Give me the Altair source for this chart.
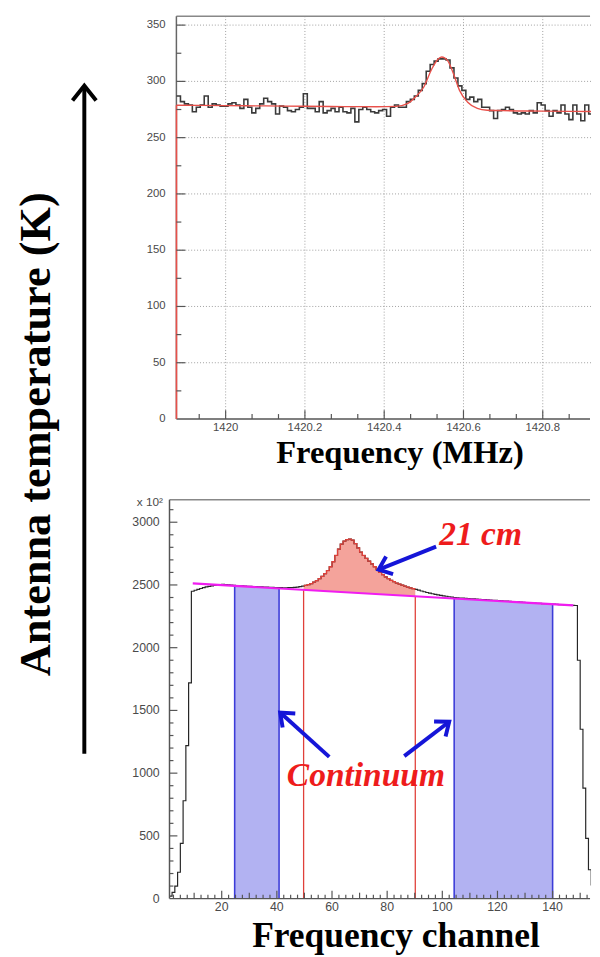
import altair as alt
import numpy as np
import pandas as pd

# ---------------- top panel: HI spectrum in frequency ----------------
top_bin_start = 1419.876          # MHz, left edge of first histogram bin
top_bin_width = 0.01              # MHz
top_counts = [287, 282, 280, 279, 273, 277, 279, 287, 277, 280,
              279, 278, 278, 280, 281, 279, 276, 284, 277, 272,
              276, 280, 285, 282, 280, 271, 278, 277, 274, 273,
              275, 277, 289, 276, 276, 273, 282, 272, 274, 276,
              273, 277, 273, 272, 276,
              264, 275, 277, 275, 273, 272, 274, 275, 269, 277,
              279, 277, 277, 282, 284, 287, 292, 298, 309, 315,
              318, 320, 320, 319, 312, 303, 296, 292, 284, 286,
              282, 284, 277, 277, 274, 267, 274, 275, 277, 275,
              272, 271, 272, 271, 274, 272, 281, 279, 274, 269,
              274, 272, 279, 271, 266, 279, 271, 265, 279, 271]
fit_freq = [1419.876, 1420.0, 1420.1, 1420.2, 1420.3, 1420.38, 1420.43, 1420.46,
            1420.48, 1420.50, 1420.52, 1420.535, 1420.545, 1420.56, 1420.575,
            1420.59, 1420.61, 1420.635, 1420.66, 1420.7, 1420.8, 1420.924]
fit_temp = [278.8, 278.5, 278.2, 277.9, 277.6, 277.5, 277.8, 280.5,
            286.5, 295, 311, 319.5, 321.7, 318.4, 306.5,
            292, 281.7, 276, 274.4, 274, 273.6, 273.2]
top_x_labels = [1420.0, 1420.2, 1420.4, 1420.6, 1420.8]
top_x_text = ["1420", "1420.2", "1420.4", "1420.6", "1420.8"]
top_y_labels = [0, 50, 100, 150, 200, 250, 300, 350]

# ---------------- bottom panel: spectrum in channels (x 10^2) ----------------
chan_first = 1
chan_counts = [20, 50, 100, 210, 440, 780, 1220, 1720, 2450, 2458,
               2465, 2472, 2478, 2484, 2488, 2492, 2496, 2500, 2503, 2504,
               2503, 2501, 2499, 2497, 2495, 2493, 2492, 2490, 2489, 2488,
               2487, 2486, 2485, 2484, 2483, 2482, 2481, 2480, 2479, 2478,
               2478, 2477, 2477, 2478, 2479, 2481, 2483, 2486, 2490, 2496,
               2503, 2511, 2522, 2535, 2550, 2568, 2590, 2615, 2645, 2685,
               2735, 2785, 2825, 2850, 2862, 2865, 2858, 2830, 2795, 2762,
               2735, 2712, 2690, 2668, 2645, 2622, 2600, 2582, 2565, 2550,
               2537, 2526, 2515, 2506, 2498, 2490, 2483, 2477, 2471, 2465,
               2459, 2452, 2446, 2440, 2435, 2430, 2425, 2421, 2417, 2413,
               2410, 2406, 2403, 2400, 2398, 2396, 2395, 2393, 2392, 2390,
               2389, 2387, 2386, 2384, 2383, 2381, 2380, 2378, 2377, 2375,
               2374, 2372, 2371, 2369, 2368, 2366, 2365, 2363, 2362, 2360,
               2359, 2357, 2356, 2354, 2353, 2351, 2350, 2349, 2348, 2347,
               2345, 2343, 2342, 2340, 2339, 2338, 2337, 2336, 1900, 1350,
               880, 480, 230, 110]
baseline_ch = [9.5, 147.5]
baseline_val = [2512, 2337]
continuum_regions = [(24.7, 40.8), (104.3, 140.0)]
line_region = (49.7, 90.2)
bot_x_labels = [20, 40, 60, 80, 100, 120, 140]
bot_y_labels = [0, 500, 1000, 1500, 2000, 2500, 3000]

# annotation arrows (tail -> tip, in channel / value units)
arrow_tail_x = [97.75, 59.0, 86.2]
arrow_tail_y = [2805, 1130, 1136]
arrow_tip_x = [76.9, 41.2, 102.5]
arrow_tip_y = [2622, 1483, 1410]
arrow_angle = [158.3, 222.0, 322.5]
note_text = ["21 cm", "Continuum"]
note_x = [113.9, 72.3]
note_y = [2818, 895]

# ---------------- layout constants ----------------
W = 428
H1 = 409
H2 = 405
SPACING = 82
LX = 7  # top panel frame starts 7px right of the shared left edge

TXS = alt.Scale(domain=[1419.8584, 1419.8584 + W / 402.5], nice=False, zero=False)
TYS = alt.Scale(domain=[0, 357.9], nice=False, zero=False)
BXS = alt.Scale(domain=[1.07, 1.07 + W / 2.8], nice=False, zero=False)
BYS = alt.Scale(domain=[0, 3179], nice=False, zero=False)

one = pd.DataFrame({"a": [0]})
CHEVRON = "M -1 -0.8 L 0 0 L -1 0.8"
LABEL_FONT = "Liberation Sans"
SERIF = "Liberation Serif"
LABEL_COLOR = "#4a4a4a"


def prule(x, x2, y, y2, color, width):
    return alt.Chart(one).mark_rule(color=color, strokeWidth=width).encode(
        x=alt.value(x), x2=alt.value(x2), y=alt.value(y), y2=alt.value(y2))


def yticks(values, scale, x0, length, color="#555"):
    return alt.Chart(pd.DataFrame({"v": values})).mark_rule(color=color, strokeWidth=1.2).encode(
        y=alt.Y("v:Q", scale=scale, axis=None), x=alt.value(x0), x2=alt.value(x0 + length))


def xticks(values, scale, ybot, length, color="#555"):
    return alt.Chart(pd.DataFrame({"v": values})).mark_rule(color=color, strokeWidth=1.2).encode(
        x=alt.X("v:Q", scale=scale, axis=None), y=alt.value(ybot), y2=alt.value(ybot - length))


def xlabels(values, texts, scale, y, size):
    df = pd.DataFrame({"v": values, "t": texts})
    return alt.Chart(df).mark_text(font=LABEL_FONT, fontSize=size, color=LABEL_COLOR,
                                   align="center", baseline="top").encode(
        x=alt.X("v:Q", scale=scale, axis=None), y=alt.value(y), text="t:N")


def ylabels(values, scale, x, size):
    df = pd.DataFrame({"v": values, "t": [str(v) for v in values]})
    return alt.Chart(df).mark_text(font=LABEL_FONT, fontSize=size, color=LABEL_COLOR,
                                   align="right", baseline="middle").encode(
        y=alt.Y("v:Q", scale=scale, axis=None), x=alt.value(x), text="t:N")


def ptext(txt, x, y, size, **kw):
    return alt.Chart(one).mark_text(text=txt, fontSize=size, **kw).encode(
        x=alt.value(x), y=alt.value(y))


# ================= TOP PANEL =================
n_top = len(top_counts)
top_df = pd.DataFrame({
    "f": [top_bin_start + i * top_bin_width for i in range(n_top + 1)],
    "T": top_counts + [top_counts[-1]],
})

grid_v = alt.Chart(pd.DataFrame({"v": top_x_labels})).mark_rule(
    color="#a0a0a0", strokeDash=[1, 2], strokeWidth=1).encode(
    x=alt.X("v:Q", scale=TXS, axis=None), y=alt.value(0), y2=alt.value(H1))
grid_h = alt.Chart(pd.DataFrame({"v": top_y_labels[1:]})).mark_rule(
    color="#a0a0a0", strokeDash=[1, 2], strokeWidth=1).encode(
    y=alt.Y("v:Q", scale=TYS, axis=None), x=alt.value(LX), x2=alt.value(W))

top_minor_x = [1420 + k * 0.2 / 3 for k in range(-1, 14) if k % 3 != 0]
top_minor_y = [25 + 50 * k for k in range(7)]

hist_top = alt.Chart(top_df).mark_line(
    interpolate="step-after", color="#3a3a3a", strokeWidth=1.6, clip=True).encode(
    x=alt.X("f:Q", scale=TXS, axis=None),
    y=alt.Y("T:Q", scale=TYS, axis=None))

fit_df = pd.DataFrame({"f": fit_freq, "T": fit_temp})
fit_line = alt.Chart(fit_df).mark_line(
    color="#e8504a", strokeWidth=1.4, interpolate="monotone", clip=True).encode(
    x=alt.X("f:Q", scale=TXS, axis=None), y=alt.Y("T:Q", scale=TYS, axis=None))
fit_left = alt.Chart(pd.DataFrame({"f": [fit_freq[0]], "t0": [0], "t1": [fit_temp[0]]})).mark_rule(
    color="#e8504a", strokeWidth=1.6).encode(
    x=alt.X("f:Q", scale=TXS, axis=None), y=alt.Y("t0:Q", scale=TYS, axis=None),
    y2=alt.Y2("t1:Q"))

top = alt.layer(
    prule(-163, -163, 0, 1, "white", 1),  # layout anchor at the page's left edge
    grid_v, grid_h,
    prule(LX, W - 1, 0, 0, "#888", 1.5),
    prule(LX, W - 1, H1, H1, "#555", 1.5),
    prule(LX, LX, 0, H1, "#666", 1.5),
    hist_top, fit_line, fit_left,
    xticks(top_x_labels, TXS, H1, 9), xticks(top_minor_x, TXS, H1, 5),
    yticks(top_y_labels[1:], TYS, LX, 9), yticks(top_minor_y, TYS, LX, 5),
    xlabels(top_x_labels, top_x_text, TXS, H1 + 3, 11.5),
    ylabels(top_y_labels, TYS, -4, 11.5),
    ptext("Frequency (MHz)", 234, 454, 33, font=SERIF, fontWeight="bold",
          align="center", baseline="alphabetic", color="black"),
    # left: big arrow and its label
    ptext("Antenna temperature (K)", -135.5, 424.5, 45, font=SERIF, fontWeight="bold",
          align="center", baseline="middle", angle=270, color="black"),
    prule(-86.5, -86.5, 72, 749, "black", 4),
    alt.Chart(one).mark_point(shape=CHEVRON, size=900, angle=270, filled=False,
                              strokeWidth=4, color="black", opacity=1).encode(
        x=alt.value(-86.5), y=alt.value(70.5)),
).properties(width=W, height=H1)

# ================= BOTTOM PANEL =================
def hist_at(x):
    return chan_counts[int(np.floor(x)) - chan_first]


def base_at(x):
    return baseline_val[0] + (x - baseline_ch[0]) * (baseline_val[1] - baseline_val[0]) / (baseline_ch[1] - baseline_ch[0])


n_ch = len(chan_counts)
bot_df = pd.DataFrame({
    "c": [chan_first + i for i in range(n_ch + 1)],
    "v": chan_counts + [chan_counts[-1]],
})

blue_rows = []
for r, (lo, hi) in enumerate(continuum_regions):
    xs = [lo] + [c for c in range(int(np.ceil(lo)), int(np.ceil(hi))) if c > lo] + [hi]
    for x in xs:
        blue_rows.append({"r": r, "c": x, "v": hist_at(x), "z": 0})
blue_df = pd.DataFrame(blue_rows)

lo, hi = line_region
red_xs = [lo] + [c for c in range(int(np.ceil(lo)), int(np.ceil(hi))) if c > lo] + [hi]
red_df = pd.DataFrame({"c": red_xs, "v": [hist_at(x) for x in red_xs], "b": [base_at(x) for x in red_xs]})

edges = [e for reg in continuum_regions for e in reg]
blue_edge_df = pd.DataFrame({"c": edges, "z": [0] * len(edges), "t": [hist_at(e) for e in edges]})
red_edge_df = pd.DataFrame({"c": list(line_region), "z": [0, 0], "t": [base_at(x) for x in line_region]})
mag_df = pd.DataFrame({"c": baseline_ch, "v": baseline_val})

arrow_df = pd.DataFrame({"tx": arrow_tail_x, "ty": arrow_tail_y, "hx": arrow_tip_x,
                         "hy": arrow_tip_y, "ang": arrow_angle})
note_df = pd.DataFrame({"t": note_text, "x": note_x, "y": note_y})


def bx(f):
    return alt.X(f, type="quantitative", scale=BXS, axis=None)


def by(f):
    return alt.Y(f, type="quantitative", scale=BYS, axis=None)


blue_area = alt.Chart(blue_df).mark_area(interpolate="step-after", color="#b2b2f2", opacity=1).encode(
    x=bx("c"), y=by("v"), y2=alt.Y2("z:Q"), detail="r:N")
red_area = alt.Chart(red_df).mark_area(interpolate="step-after", color="#f4a39b", opacity=1).encode(
    x=bx("c"), y=by("v"), y2=alt.Y2("b:Q"))
hist_bot = alt.Chart(bot_df).mark_line(interpolate="step-after", color="#262626",
                                       strokeWidth=1.2, clip=True).encode(
    x=bx("c"), y=by("v"))
red_outline = alt.Chart(red_df).mark_line(interpolate="step-after", color="#e0403a", strokeWidth=1.3).encode(
    x=bx("c"), y=by("v"))
blue_edges = alt.Chart(blue_edge_df).mark_rule(color="#3c3cd8", strokeWidth=1.6).encode(
    x=bx("c"), y=by("z"), y2=alt.Y2("t:Q"))
red_edges = alt.Chart(red_edge_df).mark_rule(color="#e0403a", strokeWidth=1.3).encode(
    x=bx("c"), y=by("z"), y2=alt.Y2("t:Q"))
magenta = alt.Chart(mag_df).mark_line(color="#f01df0", strokeWidth=2.2).encode(x=bx("c"), y=by("v"))

arrow_shaft = alt.Chart(arrow_df).mark_rule(color="#1515d8", strokeWidth=4).encode(
    x=bx("tx"), y=by("ty"), x2=alt.X2("hx:Q"), y2=alt.Y2("hy:Q"))
arrow_head = alt.Chart(arrow_df).mark_point(shape=CHEVRON, size=576, filled=False, strokeWidth=4,
                                            color="#1515d8", opacity=1).encode(
    x=bx("hx"), y=by("hy"), angle=alt.Angle("ang:Q", scale=None))
notes = alt.Chart(note_df).mark_text(font=SERIF, fontSize=34, fontWeight="bold", fontStyle="italic",
                                     color="#ee1c1c", align="center", baseline="alphabetic").encode(
    x=bx("x"), y=by("y"), text="t:N")

bot_minor_y = [100 * k for k in range(1, 32) if k % 5 != 0]
bot_mid_x = [10, 30, 50, 70, 90, 110, 130, 150]
bot_minor_x = [2.5 * k for k in range(1, 62) if (2.5 * k) % 10 != 0]

bottom = alt.layer(
    blue_area, red_area, blue_edges, red_edges, hist_bot, red_outline, magenta,
    prule(0, W - 1, 0, 0, "#888", 1.5),
    prule(0, W - 1, H2, H2, "#555", 1.5),
    prule(0, 0, 0, H2, "#555", 1.5),
    yticks(bot_y_labels[1:], BYS, 0, 8), yticks(bot_minor_y, BYS, 0, 4),
    xticks(bot_x_labels, BXS, H2, 8), xticks(bot_mid_x, BXS, H2, 6), xticks(bot_minor_x, BXS, H2, 4),
    xlabels(bot_x_labels, [str(v) for v in bot_x_labels], BXS, H2 + 3, 12.5),
    ylabels(bot_y_labels, BYS, -10, 12.5),
    arrow_shaft, arrow_head, notes,
    ptext("x 10²", -20, 2, 12, font=LABEL_FONT, color=LABEL_COLOR, align="center", baseline="middle"),
    ptext("Frequency channel", 230, 454, 36, font=SERIF, fontWeight="bold",
          align="center", baseline="alphabetic", color="black"),
).properties(width=W, height=H2)

chart = alt.vconcat(top, bottom, spacing=SPACING, bounds="flush").properties(
    padding=0, background="white").configure_view(stroke=None)

chart.save("out.html", embed_options={"renderer": "svg", "actions": False})
